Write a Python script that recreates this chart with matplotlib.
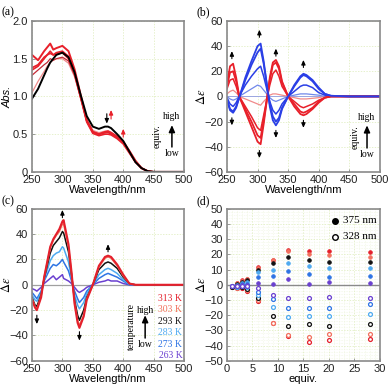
import matplotlib
matplotlib.use("Agg")
import matplotlib.pyplot as plt
from matplotlib.ticker import MultipleLocator

plt.rcParams['font.family'] = ['Liberation Sans', 'DejaVu Sans']
plt.rcParams['mathtext.fontset'] = 'stix'

SERIF = ['Liberation Serif', 'DejaVu Serif']
RED, PINK, DRED = "#e8202a", "#f08a8a", "#c42a36"
BLUE, LBLUE_B = "#2a3fe6", "#7088ea"
T_COLORS = ["#e4202c", "#f2705e", "#111111", "#4eaaf0", "#2e74e4", "#6a40d0"]
T_LABELS = ["313 K", "303 K", "293 K", "283 K", "273 K", "263 K"]

# ---- (a) absorption titration
wl_a = [250, 260, 270, 275, 280, 285, 290, 300, 310, 320, 330, 340, 350, 360,
        370, 375, 380, 390, 400, 410, 420, 430, 440, 450, 500]
abs_black = [0.97, 1.10, 1.28, 1.37, 1.45, 1.50, 1.55, 1.58, 1.52, 1.32, 1.02, 0.74, 0.60,
             0.57, 0.60, 0.60, 0.58, 0.50, 0.41, 0.27, 0.13, 0.05, 0.01, 0, 0]
abs_pink = [1.05, 1.20, 1.33, 1.40, 1.45, 1.48, 1.50, 1.50, 1.44, 1.26, 0.98, 0.70, 0.55,
            0.52, 0.54, 0.54, 0.52, 0.46, 0.39, 0.26, 0.13, 0.05, 0.01, 0, 0]
abs_red1 = [1.28, 1.35, 1.42, 1.45, 1.50, 1.48, 1.50, 1.52, 1.47, 1.28, 0.98, 0.68, 0.53,
            0.50, 0.52, 0.52, 0.50, 0.45, 0.38, 0.26, 0.13, 0.05, 0.01, 0, 0]
abs_red2 = [1.35, 1.40, 1.50, 1.55, 1.57, 1.55, 1.56, 1.58, 1.50, 1.30, 0.98, 0.66, 0.51,
            0.48, 0.50, 0.50, 0.49, 0.44, 0.37, 0.25, 0.13, 0.05, 0.01, 0, 0]
abs_red3 = [1.38, 1.42, 1.52, 1.55, 1.60, 1.55, 1.58, 1.60, 1.53, 1.32, 1.00, 0.68, 0.53,
            0.50, 0.52, 0.53, 0.51, 0.46, 0.39, 0.27, 0.14, 0.05, 0.01, 0, 0]
abs_red4 = [1.55, 1.48, 1.60, 1.65, 1.70, 1.62, 1.64, 1.67, 1.60, 1.36, 1.02, 0.68, 0.53,
            0.50, 0.53, 0.54, 0.52, 0.47, 0.40, 0.28, 0.15, 0.05, 0.01, 0, 0]

# ---- (b) CD titration
wl_b = [250, 255, 260, 265, 270, 280, 290, 300, 305, 310, 320, 325, 330, 335, 340,
        350, 360, 370, 375, 380, 390, 400, 410, 420, 450, 500]
cd_blue1 = [-3, -11, -13, -9, -1, 15, 28, 40, 42, 28, -8, -19, -23, -19, -10,
            0, 9, 16, 18, 17, 13, 7, 2, 0.5, 0, 0]
cd_blue2 = [-2, -10, -12, -8, -1, 13, 25, 35, 38, 26, -6, -16, -20, -17, -9,
            0, 8, 15, 17, 16, 12, 6, 2, 0.5, 0, 0]
cd_blue3 = [-1, -6, -8, -5, 0, 9, 16, 22, 24, 16, -4, -11, -14, -11, -6,
            0, 4, 8, 9, 9, 7, 3, 1, 0, 0, 0]
cd_blue4 = [0, -2, -3, -2, 0, 3, 6, 9, 8, 5, -1, -3, -4, -3, -2,
            0, 1, 2, 2, 2, 1.5, 1, 0, 0, 0, 0]
cd_red1 = [10, 24, 26, 15, 0, -12, -24, -36, -38, -22, 15, 27, 29, 24, 12,
           0, -8, -14, -15, -14, -10, -5, -1, 0, 0, 0]
cd_red2 = [8, 19, 20, 12, 0, -10, -20, -31, -33, -19, 13, 25, 27, 22, 11,
           0, -6, -12, -13, -12, -9, -4, -1, 0, 0, 0]
cd_red3 = [6, 13, 14, 8, 0, -8, -16, -25, -27, -15, 9, 18, 21, 16, 8,
           0, -4, -8, -9, -8, -6, -3, -1, 0, 0, 0]
cd_red4 = [2, 4, 5, 3, 0, -2, -4, -6, -7, -4, 1, 2, 2, 1.5, 1,
           0, -1, -2, -2, -2, -1.5, -1, 0, 0, 0, 0]

# ---- (c) CD vs temperature
wl_c = [250, 255, 258, 265, 270, 280, 285, 290, 295, 300, 302, 310, 315, 320, 325, 328,
        335, 340, 350, 360, 370, 375, 380, 390, 400, 410, 420, 450, 500]
cd_313 = [-12, -18, -20, -10, 6, 30, 36, 40, 44, 50, 51, 32, 10, -15, -30, -34,
          -25, -12, 0, 15, 22, 23, 22, 16, 8, 1, 0, 0, 0]
cd_303 = [-11, -17, -19, -9, 6, 29, 35, 39, 42, 48, 48, 30, 9, -14, -28, -32,
          -24, -11, 0, 14, 21, 22, 21, 15, 7, 1, 0, 0, 0]
cd_293 = [-10, -16, -17, -8, 5, 25, 31, 34, 37, 42, 41, 26, 8, -12, -24, -28,
          -20, -10, 0, 12, 17, 18, 17, 13, 6, 1, 0, 0, 0]
cd_283 = [-8, -12, -13, -6, 4, 19, 23, 25, 26, 30, 29, 18, 5, -8, -16, -19,
          -14, -7, 0, 8, 12, 13, 12, 9, 4, 0.5, 0, 0, 0]
cd_273 = [-6, -9, -11, -5, 3, 13, 16, 15, 17, 20, 18, 11, 3, -5, -11, -14,
          -10, -5, 0, 5, 8, 9, 8, 6, 3, 0, 0, 0, 0]
cd_263 = [-3, -4, -5, -2, 1, 5, 7, 4, 6, 8, 5, 3, 1, -2, -5, -6,
          -4, -2, 0, 2, 3, 4, 3, 3, 1, 0, 0, 0, 0]

# ---- (d) titration at each temperature
equiv = [1, 2, 3, 4, 6, 9, 12, 16, 20, 28]
d375 = [
    [-0.5, 1.5, 3, 4, 12, 16.5, 23, 22, 22, 21.5],
    [-0.5, 1, 2.5, 3.5, 11, 16, 22, 20, 19.5, 18.5],
    [-0.5, 0.5, 2, 3, 10, 14, 18, 16, 15, 15],
    [-1, 0, 1, 2, 8.5, 10, 14.5, 12.5, 11, 11],
    [-1, -0.5, 0.5, 0.5, 5, 6, 9, 7, 5, 6],
    [-1, -0.5, 0, 0, 1.5, 0.5, 3.5, 0.5, 2, 1],
]
d328 = [
    [-1.5, -2, -2, -4, -10.5, -25, -33.5, -37.5, -36, -35.5],
    [-1.5, -2, -1.5, -3.5, -10, -25, -33, -34.5, -32.5, -32.5],
    [-1.5, -1.5, -1.5, -2.5, -9, -20.5, -27, -26, -27, -25.5],
    [-1, -1.5, -1, -1.5, -6.5, -14.5, -21.5, -20.5, -20.5, -19],
    [-1, -1, -1, -1, -4.5, -9.5, -15, -15, -15, -12.5],
    [-1, -1, -0.5, -0.5, -2, -7, -9, -8.5, -8, -9],
]

fig = plt.figure(figsize=(3.9, 3.88), dpi=100)
axa = fig.add_axes([0.082, 0.557, 0.390, 0.389])
axb = fig.add_axes([0.582, 0.557, 0.392, 0.389])
axc = fig.add_axes([0.082, 0.070, 0.390, 0.392])
axd = fig.add_axes([0.582, 0.070, 0.392, 0.392])


def frame(ax, ylab, xlab="Wavelength/nm"):
    for s in ax.spines.values():
        s.set_color("#8a8a8a")
        s.set_linewidth(1.2)
    ax.tick_params(direction='in', length=2, width=0.6, color="#8a8a8a",
                   labelsize=8, pad=2, labelcolor="#222")
    ax.tick_params(axis='y', pad=3)
    ax.grid(True, color="#dcebb8", lw=0.5, ls=(0, (2, 2)))
    ax.set_axisbelow(True)
    ax.set_xlabel(xlab, fontsize=8, labelpad=0.5)
    if ylab == "Abs.":
        ax.set_ylabel(ylab, fontsize=8, style="italic")
    else:
        ax.set_ylabel(ylab, fontsize=9)
    ax.yaxis.set_label_coords(-0.125, 0.5)


def arrow(ax, x, y0, y1, color="black", lw=0.8, ms=6):
    ax.annotate("", xy=(x, y1), xytext=(x, y0),
                arrowprops=dict(arrowstyle="-|>,head_length=0.45,head_width=0.2",
                                color=color, lw=lw, shrinkA=0, shrinkB=0,
                                mutation_scale=ms))


def wl_axes(ax, ylim, ystep, ylab):
    frame(ax, ylab)
    ax.set_xlim(250, 500)
    ax.set_ylim(*ylim)
    ax.xaxis.set_major_locator(MultipleLocator(50))
    ax.yaxis.set_major_locator(MultipleLocator(ystep))


def updown(ax, label, tx, ty_hi, ty_lo, y0, y1, xl):
    ax.text(tx, ty_hi, "high", fontsize=7, family=SERIF, ha="center", va="center")
    ax.text(tx, ty_lo, "low", fontsize=7, family=SERIF, ha="center", va="center")
    arrow(ax, tx, y0, y1, lw=1.1, ms=9)
    ax.text(xl, (y0 + y1) / 2, label, fontsize=7, family=SERIF, rotation=90,
            ha="center", va="center")


def minus(v, p):
    return f"{v:.0f}".replace("-", "\u2212")

# (a)
wl_axes(axa, (0, 2.0), 0.5, "Abs.")
axa.yaxis.set_major_formatter(lambda v, p: "0" if v == 0 else f"{v:.1f}")
axa.plot(wl_a, abs_pink, color=PINK, lw=0.9)
axa.plot(wl_a, abs_red1, color=DRED, lw=0.9)
axa.plot(wl_a, abs_red2, color=RED, lw=1.2)
axa.plot(wl_a, abs_red3, color=RED, lw=1.2)
axa.plot(wl_a, abs_red4, color=RED, lw=1.4)
axa.plot(wl_a, abs_black, color="black", lw=1.4)
arrow(axa, 373, 0.77, 0.64)
arrow(axa, 380, 0.70, 0.82, color=RED)
arrow(axa, 400, 0.46, 0.57, color=RED)
updown(axa, "equiv.", 480, 0.73, 0.24, 0.33, 0.62, 456)

# (b)
wl_axes(axb, (-60, 60), 20, r"$\Delta\varepsilon$")
axb.yaxis.set_major_formatter(minus)
axb.axhline(0, color="#9aa6e0", lw=0.7)
axb.plot(wl_b, cd_red4, color=PINK, lw=0.9)
axb.plot(wl_b, cd_blue4, color=LBLUE_B, lw=0.9)
axb.plot(wl_b, cd_red3, color=RED, lw=1.1)
axb.plot(wl_b, cd_blue3, color=BLUE, lw=1.1)
axb.plot(wl_b, cd_red2, color=RED, lw=1.3)
axb.plot(wl_b, cd_blue2, color=BLUE, lw=1.3)
axb.plot(wl_b, cd_red1, color=RED, lw=1.3)
axb.plot(wl_b, cd_blue1, color=BLUE, lw=1.3)
for x, lo, hi in [(258, 30, 36), (303, 47, 53), (330, 32, 38), (375, 23, 29)]:
    arrow(axb, x, lo, hi)
for x, hi, lo in [(258, -17, -23), (303, -43, -49), (330, -27, -33), (375, -19, -25)]:
    arrow(axb, x, hi, lo)
updown(axb, "equiv.", 479, -17, -46, -41, -23, 459)

# (c)
wl_axes(axc, (-60, 60), 20, r"$\Delta\varepsilon$")
axc.yaxis.set_major_formatter(minus)
axc.axhline(0, color="#a0a0a0", lw=0.9)
for ys, c in reversed(list(zip([cd_313, cd_303, cd_293, cd_283, cd_273, cd_263], T_COLORS))):
    axc.plot(wl_c, ys, color=c, lw=1.1 if c != T_COLORS[0] else 1.5)
arrow(axc, 258, -24, -31)
arrow(axc, 300, 53, 59)
arrow(axc, 328, -37, -44)
arrow(axc, 375, 26, 32)
for i, (lab, c) in enumerate(zip(T_LABELS, T_COLORS)):
    axc.text(497, -10.5 - i * 9.1, lab, color=c, fontsize=7, family=SERIF,
             ha="right", va="center")
updown(axc, "temperature", 436, -20, -47.5, -42, -24, 413)

# (d)
frame(axd, r"$\Delta\varepsilon$", "equiv.")
axd.grid(True, which="minor", color="#e4efcc", lw=0.4, ls=(0, (1, 2)))
axd.set_xlim(0, 30)
axd.set_ylim(-50, 50)
axd.xaxis.set_major_locator(MultipleLocator(5))
axd.yaxis.set_major_locator(MultipleLocator(10))
axd.xaxis.set_minor_locator(MultipleLocator(1))
axd.yaxis.set_minor_locator(MultipleLocator(2))
axd.tick_params(which="minor", length=0)
axd.yaxis.set_major_formatter(minus)
axd.axhline(0, color="#8a8a8a", lw=1.0)
for ys, c in zip(d375, T_COLORS):
    axd.plot(equiv, ys, "o", ms=2.6, color=c, mec=c, mew=0.6, ls="none")
for ys, c in zip(d328, T_COLORS):
    axd.plot(equiv, ys, "o", ms=2.8, mfc="white", mec=c, mew=0.9, ls="none")
axd.plot([21.2], [42], "o", ms=4, color="black")
axd.plot([21.2], [31.6], "o", ms=4, mfc="white", mec="black", mew=1)
axd.text(22.8, 42, "375 nm", fontsize=8, family=SERIF, va="center")
axd.text(22.8, 31.6, "328 nm", fontsize=8, family=SERIF, va="center")

for lab, x, y in [("(a)", 0.005, 0.985), ("(b)", 0.505, 0.985),
                  ("(c)", 0.005, 0.497), ("(d)", 0.505, 0.497)]:
    fig.text(x, y, lab, fontsize=8.5, family=SERIF, va="top", ha="left")

fig.savefig("out.png", dpi=100, facecolor="white")
